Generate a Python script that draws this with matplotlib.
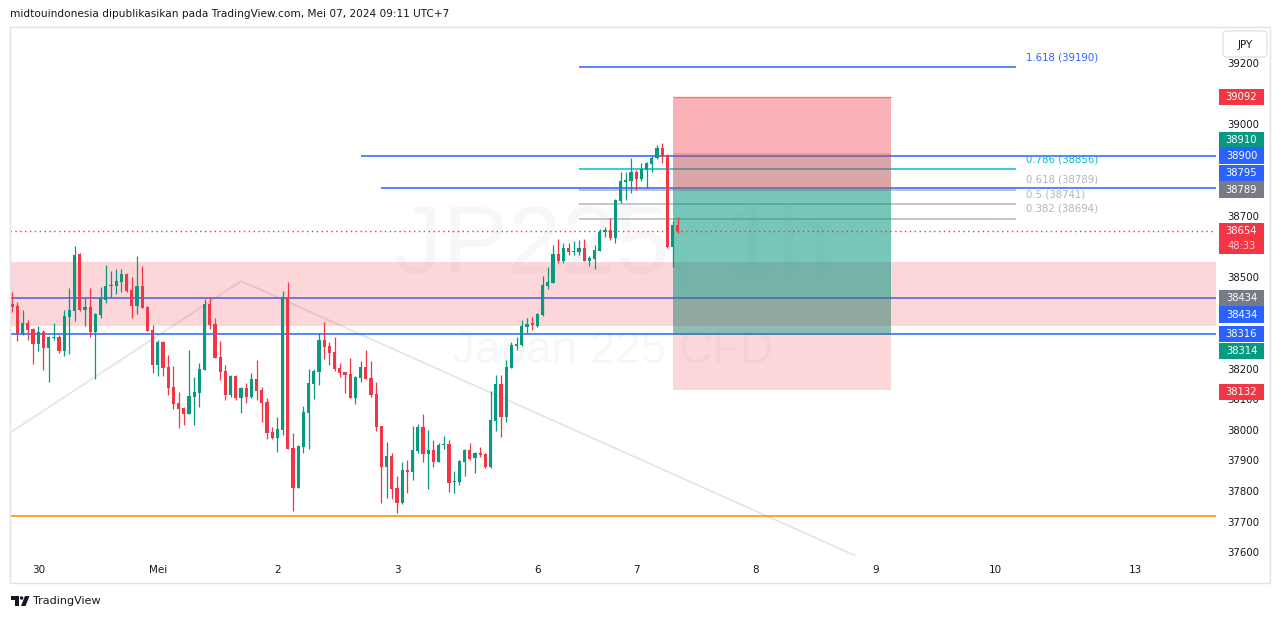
import numpy as np
import matplotlib
matplotlib.use("Agg")
import matplotlib.pyplot as plt
import matplotlib.transforms as mtransforms
from matplotlib.patches import Rectangle, FancyBboxPatch, Polygon, Circle

W, H = 1281, 619

# ------------------------------------------
# JP225 1h candles
# ------------------------------------------
opens = [38415, 38408, 38318, 38353, 38333, 38285, 38323, 38272, 38304, 38307,
         38262, 38373, 38393, 38577, 38395, 38405, 38324, 38380, 38428, 38474,
         38474, 38487, 38513, 38461, 38408, 38474, 38405, 38331, 38216, 38291,
         38210, 38144, 38092, 38076, 38056, 38112, 38125, 38200, 38415, 38349,
         38242, 38197, 38118, 38180, 38108, 38141, 38112, 38171, 38135, 38095,
         37997, 37977, 38004, 38438, 37945, 37814, 37948, 38059, 38154, 38193,
         38297, 38277, 38257, 38205, 38192, 38185, 38108, 38173, 38208, 38172,
         38120, 38015, 37882, 37917, 37813, 37764, 37871, 37865, 37935, 38012,
         37925, 37937, 37899, 37954, 37957, 37833, 37833, 37899, 37937, 37912,
         37928, 37925, 37882, 38033, 38153, 38046, 38206, 38278, 38280, 38340,
         38352, 38343, 38378, 38474, 38484, 38580, 38555, 38598, 38585, 38585,
         38598, 38556, 38563, 38589, 38649, 38657, 38631, 38751, 38815, 38817,
         38846, 38825, 38853, 38873, 38891, 38926, 38902, 38602, 38673]
highs = [38454, 38422, 38395, 38362, 38335, 38343, 38330, 38309, 38353, 38312,
         38395, 38467, 38605, 38583, 38434, 38467, 38384, 38470, 38542, 38523,
         38529, 38529, 38515, 38503, 38572, 38539, 38407, 38346, 38297, 38293,
         38248, 38212, 38127, 38078, 38264, 38177, 38222, 38431, 38438, 38369,
         38294, 38216, 38182, 38182, 38143, 38157, 38190, 38233, 38144, 38108,
         38013, 38046, 38457, 38487, 37994, 37955, 38081, 38202, 38202, 38320,
         38356, 38290, 38307, 38221, 38194, 38238, 38179, 38229, 38264, 38228,
         38159, 38017, 37963, 37927, 37852, 37897, 37904, 38015, 38022, 38055,
         38002, 37969, 37960, 37984, 37971, 37869, 37905, 37939, 37960, 37930,
         37948, 37928, 38131, 38182, 38182, 38231, 38290, 38308, 38362, 38368,
         38371, 38384, 38506, 38537, 38607, 38627, 38613, 38613, 38620, 38624,
         38627, 38573, 38607, 38660, 38668, 38695, 38757, 38846, 38846, 38891,
         38853, 38875, 38878, 38902, 38935, 38940, 38904, 38686, 38698]
lows = [38390, 38295, 38315, 38297, 38220, 38262, 38199, 38161, 38297, 38256,
        38246, 38252, 38360, 38393, 38344, 38308, 38171, 38370, 38419, 38439,
        38449, 38454, 38454, 38370, 38383, 38401, 38326, 38190, 38180, 38180,
        38118, 38072, 38010, 38020, 38054, 38020, 38079, 38198, 38334, 38237,
        38167, 38102, 38112, 38102, 38059, 38092, 38108, 38102, 38030, 37974,
        37974, 37932, 37987, 37939, 37739, 37812, 37928, 37941, 38105, 38151,
        38236, 38216, 38196, 38177, 38124, 38106, 38088, 38160, 38168, 38111,
        38001, 37764, 37781, 37778, 37732, 37762, 37797, 37840, 37928, 37899,
        37810, 37882, 37897, 37941, 37800, 37797, 37823, 37853, 37905, 37863,
        37915, 37879, 37880, 38000, 37980, 38030, 38204, 38264, 38278, 38321,
        38331, 38341, 38376, 38463, 38482, 38550, 38550, 38575, 38575, 38575,
        38554, 38540, 38530, 38587, 38635, 38624, 38613, 38744, 38755, 38777,
        38787, 38818, 38795, 38847, 38888, 38877, 38597, 38537, 38646]
closes = [38406, 38318, 38353, 38331, 38285, 38323, 38272, 38307, 38307, 38262,
          38376, 38395, 38575, 38395, 38405, 38324, 38382, 38434, 38474, 38477,
          38490, 38513, 38457, 38408, 38474, 38403, 38328, 38216, 38291, 38207,
          38141, 38089, 38072, 38056, 38115, 38128, 38203, 38415, 38347, 38239,
          38193, 38118, 38180, 38108, 38141, 38112, 38171, 38131, 38092, 37994,
          37977, 38007, 38438, 37941, 37814, 37951, 38061, 38156, 38195, 38297,
          38275, 38255, 38202, 38190, 38183, 38108, 38176, 38208, 38170, 38118,
          38013, 37882, 37917, 37810, 37764, 37871, 37865, 37937, 38012, 37925,
          37937, 37899, 37954, 37957, 37830, 37836, 37902, 37937, 37908, 37928,
          37922, 37882, 38035, 38153, 38046, 38208, 38280, 38284, 38342, 38349,
          38346, 38382, 38477, 38486, 38580, 38555, 38598, 38586, 38588, 38598,
          38556, 38565, 38591, 38649, 38657, 38631, 38755, 38817, 38820, 38846,
          38825, 38855, 38876, 38891, 38926, 38900, 38602, 38673, 38654]

date_pos = [5, 28, 51, 74, 101, 120, 143, 166, 189, 216]
date_labels = ["30", "Mei", "2", "3", "6", "7", "8", "9", "10", "13"]
price_ticks = [37600, 37700, 37800, 37900, 38000, 38100, 38200, 38300, 38400,
               38500, 38600, 38700, 38800, 38900, 39000, 39100, 39200]

# drawings
zone_low, zone_high = 38343, 38552
support_level = 37720
full_lines = [38434, 38316]
part_lines = [38900, 38795]
part_lines_start = [67, 71]
trend_x = [-0.5, 44, 162]
trend_y = [37993, 38490, 37593]

fib_ratio = ["1.618", "0.786", "0.618", "0.5", "0.382"]
fib_price = [39190, 38856, 38789, 38741, 38694]
fib_start, fib_end = 109, 193

# two position tools on the same bars
pos_start, pos_end = 127, 169
short_entry, short_stop, short_target = 38789, 39092, 38314
long_entry, long_stop, long_target = 38434, 38132, 38910

# right-scale labels
label_values = [39092, 38910, 38900, 38795, 38789, 38434, 38434, 38316, 38314, 38132]
countdown = "48:33"

RED = "#f23645"
GREEN = "#089981"
BLUE = "#2962ff"
GRAY = "#787b86"
TXT = "#131722"
label_colors = [RED, GREEN, BLUE, BLUE, GRAY, GRAY, BLUE, BLUE, GREEN, RED]
label_shift = [0, -12.6, 0, -15, 0, 0, 16.4, 0, 16.4, 1.6]   # px, to stop overlaps

# ------------------------------------------
# figure
# ------------------------------------------
fig = plt.figure(figsize=(W / 100, H / 100), dpi=100)
fig.patch.set_facecolor("white")
px = mtransforms.Affine2D().scale(1.0 / W, -1.0 / H).translate(0, 1) + fig.transFigure

PANE_L, PANE_R, PANE_T, PANE_B = 10, 1216, 27, 558
ax = fig.add_axes([PANE_L / W, 1 - PANE_B / H, (PANE_R - PANE_L) / W, (PANE_B - PANE_T) / H])
ylo, yhi = 37584, 39321
xlo, xhi = -0.44, 231.5
ax.set_xlim(xlo, xhi)
ax.set_ylim(ylo, yhi)
ppx = (yhi - ylo) / (PANE_B - PANE_T)   # price per pixel
for s in ax.spines.values():
    s.set_visible(False)
ax.set_yticks([])
ax.set_xticks(date_pos)
ax.set_xticklabels(date_labels)
ax.tick_params(axis="x", length=0, pad=5, labelsize=7.5, labelcolor=TXT)

# watermark
ax.text(0.5, 0.585, "JP225, 1h", transform=ax.transAxes, ha="center", va="center",
        fontsize=70, family="Liberation Sans", color="#787b86", alpha=0.055, zorder=0.5)
ax.text(0.5, 0.39, "Japan 225 CFD", transform=ax.transAxes, ha="center", va="center",
        fontsize=33, family="Liberation Sans", color="#787b86", alpha=0.055, zorder=0.5)

# trend lines
ax.plot(trend_x, trend_y, color="#d1d4dc", lw=1.3, alpha=0.6, zorder=1)

# horizontal lines
ax.hlines(full_lines, xlo, xhi, colors=BLUE, lw=1.1, zorder=2)
for lvl, x0 in zip(part_lines, part_lines_start):
    ax.hlines(lvl, x0, xhi, colors=BLUE, lw=1.1, zorder=2)
ax.hlines(support_level, xlo, xhi, colors="#ff9800", lw=1.2, zorder=2)

# fib retracement
fib_cols = [BLUE, "#00bcd4", "#b2b5be", "#b2b5be", "#b2b5be"]
for r, p, col in zip(fib_ratio, fib_price, fib_cols):
    ax.hlines(p, fib_start, fib_end, colors=col, lw=1.1, zorder=2)
    ax.text(fib_end + 1.9, p + 10 * ppx, f"{r} ({p})", color=col, fontsize=7.3,
            ha="left", va="center", zorder=6)

# supply/demand zone
ax.axhspan(zone_low, zone_high, color=RED, alpha=0.2, lw=0, zorder=3)

# position tools (long under, short over)
pw = pos_end - pos_start
ax.add_patch(Rectangle((pos_start, long_entry), pw, long_target - long_entry,
                       fc=GREEN, alpha=0.2, lw=0, zorder=4))
ax.add_patch(Rectangle((pos_start, long_stop), pw, long_entry - long_stop,
                       fc=RED, alpha=0.2, lw=0, zorder=4))
ax.add_patch(Rectangle((pos_start, short_entry), pw, short_stop - short_entry,
                       fc=RED, alpha=0.38, lw=0, zorder=4))
ax.add_patch(Rectangle((pos_start, short_target), pw, short_entry - short_target,
                       fc=GREEN, alpha=0.44, lw=0, zorder=4))
ax.hlines(short_stop, pos_start, pos_end, colors=RED, lw=1, alpha=0.5, zorder=4)

# candles
o = np.array(opens, float)
h = np.array(highs, float)
l = np.array(lows, float)
c = np.array(closes, float)
idx = np.arange(len(o))
cols = np.where(c >= o, GREEN, RED)
ax.vlines(idx, l, h, colors=cols, lw=0.9, zorder=5)
body_lo = np.minimum(o, c)
body_h = np.maximum(np.abs(c - o), 1.2 * ppx)
ax.bar(idx, body_h, bottom=body_lo, width=0.62, color=cols, lw=0, zorder=5)

# last price line
ax.axhline(c[-1], color=RED, lw=1, ls=(0, (1, 2.5)), zorder=6)

# ------------------------------------------
# right price scale
# ------------------------------------------
axr = fig.add_axes([PANE_R / W, 1 - PANE_B / H, 54 / W, (PANE_B - PANE_T) / H])
axr.set_xlim(0, 1)
axr.set_ylim(ylo, yhi)
axr.axis("off")

bx0, bw = 3 / 54, 45 / 54
bh = 16.4 * ppx
boxes = []   # (bottom, top) in price, to hide ticks that sit under a label
for v, col, sh in zip(label_values, label_colors, label_shift):
    yc = v - sh * ppx
    boxes.append((yc - bh / 2, yc + bh / 2))
    axr.add_patch(Rectangle((bx0, yc - bh / 2), bw, bh, fc=col, lw=0, zorder=2, clip_on=False))
    axr.text(0.472, yc, str(v), ha="center", va="center", fontsize=7.2, color="white",
             zorder=3, clip_on=False)

# current price + countdown
yc = c[-1]
cur_bot = yc - 8.2 * ppx - 31 * ppx + 16.4 * ppx
boxes.append((cur_bot, cur_bot + 31 * ppx))
axr.add_patch(Rectangle((bx0, cur_bot), bw, 31 * ppx, fc=RED, lw=0, zorder=2, clip_on=False))
axr.text(0.472, yc, f"{c[-1]:.0f}", ha="center", va="center", fontsize=7.2,
         color="white", zorder=3, clip_on=False)
axr.text(0.472, yc - 15 * ppx, countdown, ha="center", va="center", fontsize=7.2,
         color="#fcc8cc", zorder=3, clip_on=False)

m = 1.5 * ppx
for p in price_ticks:
    if any(b0 + m <= p <= b1 - m for b0, b1 in boxes):
        continue
    axr.text(0.5, p, str(p), ha="center", va="center", fontsize=7.3, color=TXT,
             zorder=1, clip_on=True)

# currency button
fig.add_artist(FancyBboxPatch((1223, 31), 44, 26, boxstyle="round,pad=0,rounding_size=4",
                              transform=px, fc="white", ec="#e0e3eb", lw=1))
fig.text(1245, 44.5, "JPY", transform=px, ha="center", va="center", fontsize=7.5, color=TXT)

# outer frame
fig.add_artist(Rectangle((10, 27), 1260, 556, transform=px, fill=False, ec="#e0e3eb", lw=1))

# header / footer
fig.text(10, 14, "midtouindonesia dipublikasikan pada TradingView.com, Mei 07, 2024 09:11 UTC+7",
         transform=px, ha="left", va="center", fontsize=7.6, color=TXT)

fig.add_artist(Polygon([(11, 596), (19, 596), (19, 606), (15, 606), (15, 599.5), (11, 599.5)],
                       closed=True, transform=px, fc=TXT, lw=0))
fig.add_artist(Circle((21.6, 598), 1.7, transform=px, fc=TXT, lw=0))
fig.add_artist(Polygon([(25, 596), (29.5, 596), (25.5, 606), (21, 606)],
                       closed=True, transform=px, fc=TXT, lw=0))
fig.text(33, 601, "TradingView", transform=px, ha="left", va="center", fontsize=8, color=TXT)

fig.savefig("out.png", dpi=100)
